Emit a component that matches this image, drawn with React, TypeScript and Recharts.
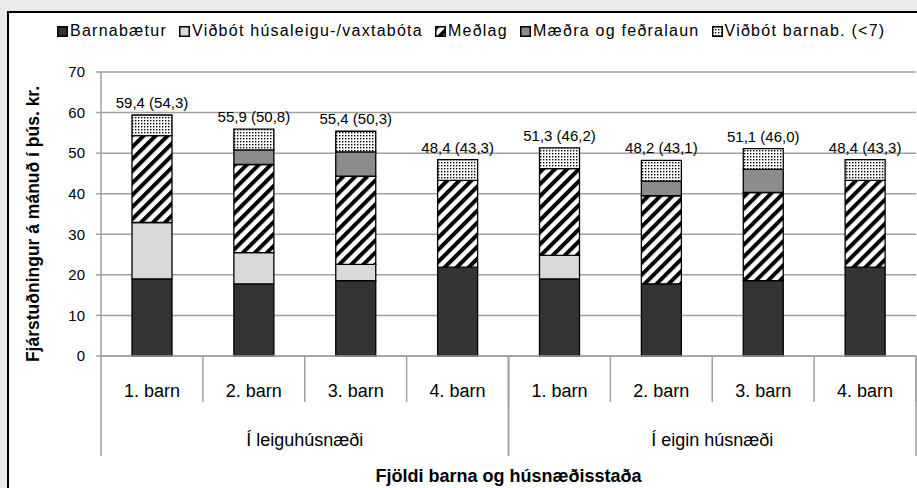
import React from 'react';
import { BarChart, Bar, XAxis, YAxis, CartesianGrid, LabelList } from 'recharts';

const categories = ['1. barn', '2. barn', '3. barn', '4. barn', '1. barn', '2. barn', '3. barn', '4. barn'];
const groups = [
    'Í leiguhúsnæði', 'Í leiguhúsnæði', 'Í leiguhúsnæði', 'Í leiguhúsnæði',
    'Í eigin húsnæði', 'Í eigin húsnæði', 'Í eigin húsnæði', 'Í eigin húsnæði',
];
const barnabaetur = [19.0, 17.8, 18.6, 21.9, 19.0, 17.8, 18.6, 21.9];
const vidbotHusaleigu = [13.9, 7.7, 4.0, 0, 5.8, 0, 0, 0];
const medlag = [21.4, 21.7, 21.7, 21.4, 21.4, 21.7, 21.7, 21.4];
const maedraFedra = [0, 3.6, 6.0, 0, 0, 3.6, 5.7, 0];
const vidbotBarnab = [5.1, 5.1, 5.1, 5.1, 5.1, 5.1, 5.1, 5.1];
const totalLabels = [
    '59,4 (54,3)', '55,9 (50,8)', '55,4 (50,3)', '48,4 (43,3)',
    '51,3 (46,2)', '48,2 (43,1)', '51,1 (46,0)', '48,4 (43,3)',
];
const yTicks = [0, 10, 20, 30, 40, 50, 60, 70];

const series = [
    { key: 'barnabaetur', name: 'Barnabætur', fill: '#333333' },
    { key: 'vidbotHusaleigu', name: 'Viðbót húsaleigu-/vaxtabóta', fill: '#d9d9d9' },
    { key: 'medlag', name: 'Meðlag', fill: 'url(#stripes)' },
    { key: 'maedraFedra', name: 'Mæðra og feðralaun', fill: '#8c8c8c' },
    { key: 'vidbotBarnab', name: 'Viðbót barnab. (<7)', fill: 'url(#dots)' },
];

const data = categories.map((c, i) => ({
    key: `c${i}`,
    cat: c,
    group: groups[i],
    barnabaetur: barnabaetur[i],
    vidbotHusaleigu: vidbotHusaleigu[i],
    medlag: medlag[i],
    maedraFedra: maedraFedra[i],
    vidbotBarnab: vidbotBarnab[i],
    lbl: totalLabels[i],
}));

const FONT = '"Liberation Sans", Arial, sans-serif';
const AXIS_GRAY = '#a0a0a0';

const CatTick = (props: any) => {
    const { x, y, payload, index } = props;
    const off = payload.offset || 0;
    return (
        <g>
            <line x1={x + off} y1={y} x2={x + off} y2={y + 46} stroke={AXIS_GRAY} strokeWidth={1.5} />
            <text x={x} y={y + 41} textAnchor="middle" fontSize={18} fill="#000" fontFamily={FONT}>
                {categories[index]}
            </text>
        </g>
    );
};

const GroupTick = (props: any) => {
    const { x, y, payload } = props;
    const off = payload.offset || 0;
    return (
        <g>
            <line x1={x - off} y1={y - 46} x2={x - off} y2={y + 54} stroke={AXIS_GRAY} strokeWidth={1.5} />
            <line x1={x + off} y1={y - 46} x2={x + off} y2={y + 54} stroke={AXIS_GRAY} strokeWidth={1.5} />
            <text x={x} y={y + 44} textAnchor="middle" fontSize={18} fill="#000" fontFamily={FONT}>
                {payload.value}
            </text>
        </g>
    );
};

const TotalLabel = (p: any) => (
    <text x={p.x + p.width / 2} y={p.y - 7} textAnchor="middle" fontSize={15} fill="#000" fontFamily={FONT}>
        {p.value}
    </text>
);

export default function App() {
    return (
        <div style={{ position: 'fixed', left: 0, top: 0, width: 917, height: 488, background: '#ebebeb', overflow: 'hidden', fontFamily: FONT }}>
            <svg width={0} height={0} style={{ position: 'absolute' }}>
                <defs>
                    <pattern id="stripes" patternUnits="userSpaceOnUse" width={8.5} height={8.5} patternTransform="rotate(45)">
                        <rect width={8.5} height={8.5} fill="#fff" />
                        <rect width={4} height={8.5} fill="#000" />
                    </pattern>
                    <pattern id="dots" patternUnits="userSpaceOnUse" width={3} height={3}>
                        <rect width={3} height={3} fill="#fff" />
                        <rect width={1.4} height={1.4} fill="#000" />
                    </pattern>
                </defs>
            </svg>
            <div style={{ position: 'absolute', left: 7, top: 11, width: 1000, height: 600, background: '#fff', borderLeft: '2px solid #000', borderTop: '2px solid #000' }} />
            <div style={{ position: 'absolute', left: 57, top: 22, display: 'flex', gap: 12, fontSize: 16, lineHeight: '18px', letterSpacing: 1.25, color: '#000', whiteSpace: 'nowrap' }}>
                {series.map(s => (
                    <div key={s.key} style={{ display: 'flex', alignItems: 'center', gap: 2 }}>
                        <svg width={11} height={11}>
                            <rect x={0.75} y={0.75} width={9.5} height={9.5} fill={s.fill} stroke="#000" strokeWidth={1.5} />
                        </svg>
                        <span>{s.name}</span>
                    </div>
                ))}
            </div>
            <div style={{ position: 'absolute', left: 0, top: 0 }}>
                <BarChart width={917} height={488} data={data} margin={{ top: 72, right: 1, left: 41, bottom: 32 }}>
                    <CartesianGrid horizontal vertical={false} stroke={AXIS_GRAY} strokeWidth={1.5} />
                    <XAxis
                        xAxisId="cat"
                        dataKey="key"
                        height={46}
                        stroke={AXIS_GRAY}
                        strokeWidth={1.5}
                        tickLine={false}
                        tickSize={0}
                        tickMargin={0}
                        interval={0}
                        tick={<CatTick />}
                    />
                    <XAxis
                        xAxisId="grp"
                        dataKey="group"
                        allowDuplicatedCategory={false}
                        height={54}
                        axisLine={false}
                        tickLine={false}
                        tickSize={0}
                        tickMargin={0}
                        interval={0}
                        tick={<GroupTick />}
                        label={{
                            content: (p: any) => {
                                const vb = p.viewBox;
                                return (
                                    <text x={vb.x + vb.width / 2} y={vb.y + vb.height + 26} textAnchor="middle" fontSize={18} fontWeight="bold" fill="#000" fontFamily={FONT}>
                                        Fjöldi barna og húsnæðisstaða
                                    </text>
                                );
                            },
                        }}
                    />
                    <YAxis
                        width={60}
                        domain={[0, 70]}
                        ticks={yTicks}
                        stroke={AXIS_GRAY}
                        strokeWidth={1.5}
                        tickSize={5}
                        tickMargin={11}
                        tick={{ fill: '#000', fontSize: 15, fontFamily: FONT }}
                        label={{
                            content: () => (
                                <text x={39} y={224} transform="rotate(-90 39 224)" textAnchor="middle" fontSize={17.5} fontWeight="bold" fill="#000" fontFamily={FONT}>
                                    Fjárstuðningur á mánuð í þús. kr.
                                </text>
                            ),
                        }}
                    />
                    {series.map((s, i) => (
                        <Bar
                            key={s.key}
                            xAxisId="cat"
                            dataKey={s.key}
                            name={s.name}
                            stackId="a"
                            fill={s.fill}
                            stroke="#000"
                            strokeWidth={1.3}
                            barSize={40}
                            isAnimationActive={false}
                        >
                            {i === series.length - 1 && <LabelList dataKey="lbl" content={<TotalLabel />} />}
                        </Bar>
                    ))}
                </BarChart>
            </div>
        </div>
    );
}
